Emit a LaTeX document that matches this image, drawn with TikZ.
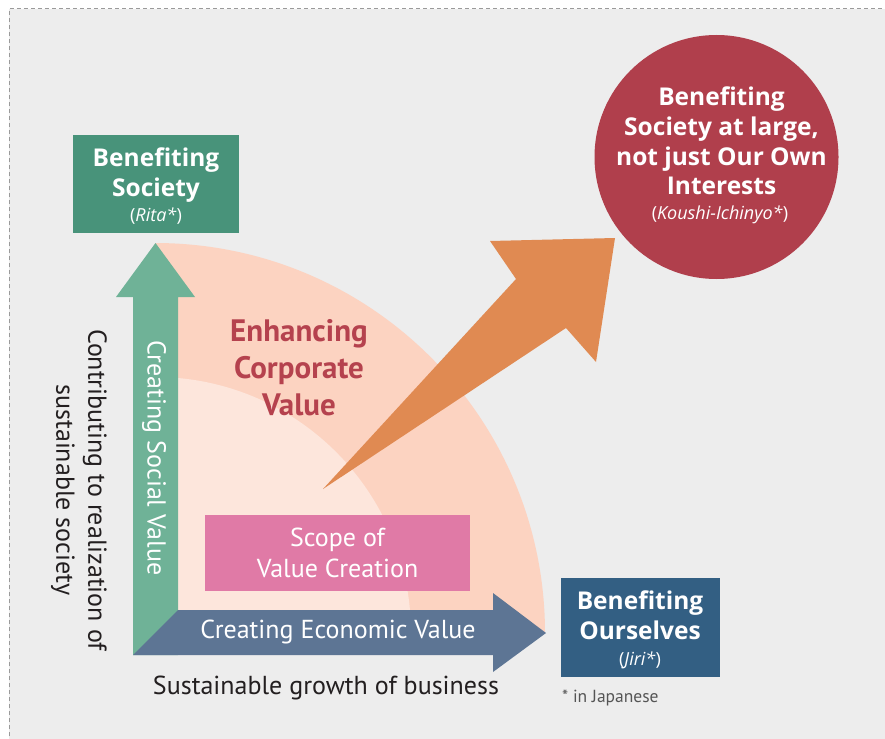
\documentclass[tikz,border=0pt]{standalone}
\usepackage{fontspec}
\setmainfont{PT Sans}
\newfontfamily\wideFam{Open Sans}
\definecolor{bg}{HTML}{EDEDED}
\definecolor{bordergray}{HTML}{9A9A9A}
\definecolor{boxgreen}{HTML}{48937A}
\definecolor{arrowgreen}{HTML}{6FB297}
\definecolor{boxblue}{HTML}{335F83}
\definecolor{arrowblue}{HTML}{5D7594}
\definecolor{circred}{HTML}{B03F4C}
\definecolor{orangearrow}{HTML}{E08A52}
\definecolor{pinkbox}{HTML}{E07AA6}
\definecolor{peachout}{HTML}{FCD3C1}
\definecolor{peachin}{HTML}{FDE6DC}
\definecolor{enhred}{HTML}{B5424E}
\definecolor{darktext}{HTML}{231F20}
\definecolor{notegray}{HTML}{555555}
\tikzset{
  titlebox/.style={inner sep=0pt, text=white, align=center, font=\wideFam\fontsize{24.5}{29.6}\selectfont\bfseries},
  jpnote/.style={inner sep=0pt, text=white, font=\wideFam\fontsize{18}{20}\selectfont},
  whitelabel/.style={inner sep=0pt, text=white, align=center, font=\fontsize{26}{31}\selectfont},
  darklabel/.style={inner sep=0pt, text=darktext, align=center, font=\fontsize{26}{32}\selectfont},
}
\begin{document}
\begin{tikzpicture}[x=1pt,y=-1pt]
\useasboundingbox (0,0) rectangle (885,738);
\begin{scope}
\clip (0,0) rectangle (885,738);
\fill[bg] (9,9) rectangle (895,750);
\draw[bordergray, dashed, dash pattern=on 4pt off 3pt, line width=1pt] (9,750) -- (9,9) -- (895,9);
\end{scope}
% quarter disks
\fill[peachout] (155,633) -- (545,633) arc[start angle=0, end angle=-90, radius=390] -- cycle;
\fill[peachin] (155,633) -- (411,633) arc[start angle=0, end angle=-90, radius=256] -- cycle;
% green up arrow
\fill[arrowgreen] (133,655) -- (133,297) -- (116,297) -- (155.5,243) -- (195,297) -- (178,297) -- (178,655) -- cycle;
% blue right arrow
\fill[arrowblue] (133,655) -- (178,610) -- (493,610) -- (493,593) -- (546,633) -- (493,672) -- (493,655) -- cycle;
% orange arrow
\fill[orangearrow] (323,489) -- (516,279) -- (490,241) -- (615,238) -- (596,362) -- (566,328) -- cycle;
% boxes
\node[fill=boxgreen, minimum width=166pt, minimum height=98pt, inner sep=0pt] (soc) at (156,184) {};
\node[titlebox] (socT) at (156,175) {Benefiting\\Society};
\node[jpnote] (socJ) at (156,216) {(\textit{Rita*})};

\node[fill=boxblue, minimum width=159pt, minimum height=99pt, inner sep=0pt] (our) at (640.5,627.5) {};
\node[titlebox] (ourT) at (640,615) {Benefiting\\Ourselves};
\node[jpnote] (ourJ) at (640,660) {(\textit{Jiri*})};

\node[circle, fill=circred, minimum size=244pt, inner sep=0pt] (koushi) at (716.5,157) {};
\node[titlebox] (koushiT) at (721.5,141) {Benefiting\\Society at large,\\not just Our Own\\Interests};
\node[jpnote] (koushiJ) at (720,215) {(\textit{Koushi-Ichinyo*})};

\node[fill=pinkbox, minimum width=265pt, minimum height=76pt, inner sep=0pt] (scope) at (337.5,553) {};
\node[whitelabel] (scopeT) at (337.5,553) {Scope of\\Value Creation};

\node[inner sep=0pt, text=enhred, align=center, font=\fontsize{31}{37}\selectfont\bfseries] (enh) at (299,368) {Enhancing\\Corporate\\Value};

\node[whitelabel, rotate=-90] (social) at (154,458) {Creating Social Value};
\node[whitelabel] (econ) at (338,632) {Creating Economic Value};
\node[darklabel] (growth) at (326,688) {Sustainable growth of business};
\node[darklabel, rotate=-90] (contrib) at (79,490) {Contributing to realization of\\sustainable society};
\node[inner sep=0pt, text=notegray, font=\fontsize{17.5}{20}\selectfont, anchor=west] (note) at (562,698) {* in Japanese};
\end{tikzpicture}
\end{document}
